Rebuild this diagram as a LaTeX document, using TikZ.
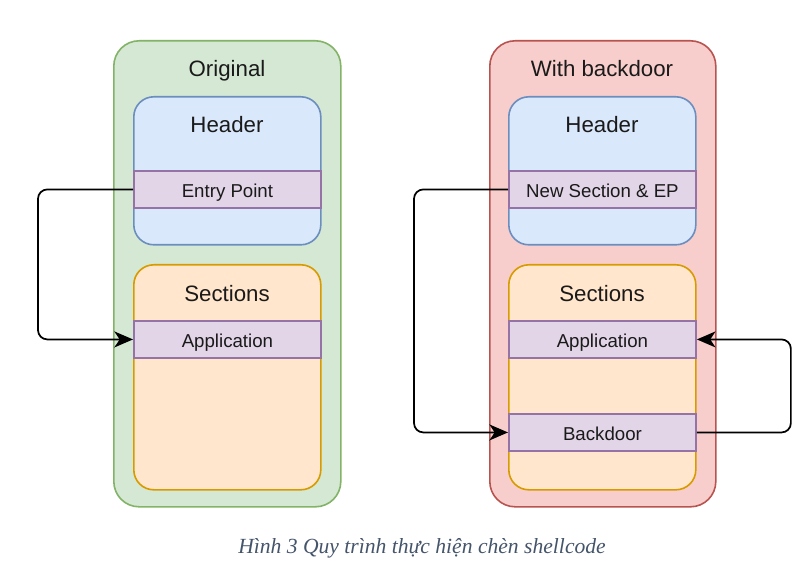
\documentclass[tikz,border=0pt]{standalone}
\usepackage{fontspec}
\setmainfont{Liberation Sans}
\newfontfamily\capfont{Liberation Serif}
\usetikzlibrary{arrows.meta}
\definecolor{grfill}{HTML}{D5E8D4}\definecolor{grline}{HTML}{82B366}
\definecolor{rdfill}{HTML}{F8CECC}\definecolor{rdline}{HTML}{B85450}
\definecolor{blfill}{HTML}{DAE8FC}\definecolor{blline}{HTML}{6C8EBF}
\definecolor{orfill}{HTML}{FFE6CC}\definecolor{orline}{HTML}{D79B00}
\definecolor{pufill}{HTML}{E1D5E7}\definecolor{puline}{HTML}{9673A6}
\definecolor{capcol}{HTML}{44546A}
\definecolor{txt}{HTML}{1A1A1A}
\tikzset{
  box/.style={rectangle, anchor=north west, inner sep=0pt, line width=1.2pt},
  outerg/.style={box, fill=grfill, draw=grline, rounded corners=19pt, minimum width={227*0.75pt}, minimum height={466*0.75pt}},
  outerr/.style={box, fill=rdfill, draw=rdline, rounded corners=19pt, minimum width={226*0.75pt}, minimum height={466*0.75pt}},
  hdr/.style={box, fill=blfill, draw=blline, rounded corners=15pt, minimum width={187*0.75pt}, minimum height={148*0.75pt}},
  sec/.style={box, fill=orfill, draw=orline, rounded corners=15pt, minimum width={187*0.75pt}, minimum height={225*0.75pt}},
  bar/.style={box, fill=pufill, draw=puline, line width=1.4pt, minimum width={187*0.75pt}, minimum height={37*0.75pt}, text=txt, font=\fontsize{14}{16}\selectfont, text height=11.5pt, text depth=0pt},
  ttl/.style={text=txt, font=\fontsize{16.7}{20}\selectfont, inner sep=0pt, text height=12pt, text depth=0pt},
  arr/.style={draw=black, line width=1.3pt, rounded corners=7pt, -{Stealth[length=14pt,width=12pt,inset=4pt]}},
}
\begin{document}
\begin{tikzpicture}[x=0.75pt, y=-0.75pt]
\useasboundingbox (0,0) rectangle (809,566);
% left
\node[outerg] (origbox) at (113,40) {};
\node[ttl] (origt) at (227,69) {Original};
\node[hdr] (hdrl) at (133,96) {};
\node[ttl] (hdrlt) at (227,125) {Header};
\node[bar] (entry) at (133,170) {Entry Point};
\node[sec] (secl) at (133,264) {};
\node[ttl] (seclt) at (227,293) {Sections};
\node[bar] (appl) at (133,320) {Application};
% right
\node[outerr] (bdbox) at (489,40) {};
\node[ttl] (bdt) at (602,69) {With backdoor};
\node[hdr] (hdrr) at (508,96) {};
\node[ttl] (hdrrt) at (602,125) {Header};
\node[bar] (newsec) at (508,170) {New Section \& EP};
\node[sec] (secr) at (508,264) {};
\node[ttl] (secrt) at (602,293) {Sections};
\node[bar] (appr) at (508,320) {Application};
\node[bar] (bd) at (508,413) {Backdoor};
% arrows
\draw[arr] (entry.west) -- ++(-95,0) |- (appl.west);
\draw[arr] (newsec.west) -- ++(-94,0) |- (bd.west);
\draw[arr] (bd.east) -- ++(94,0) |- (appr.east);
% caption
\node[font=\capfont\itshape\fontsize{16.2}{19}\selectfont, text=capcol, inner sep=0pt] (cap) at (422,548) {Hình 3 Quy trình thực hiện chèn shellcode};
\end{tikzpicture}
\end{document}
